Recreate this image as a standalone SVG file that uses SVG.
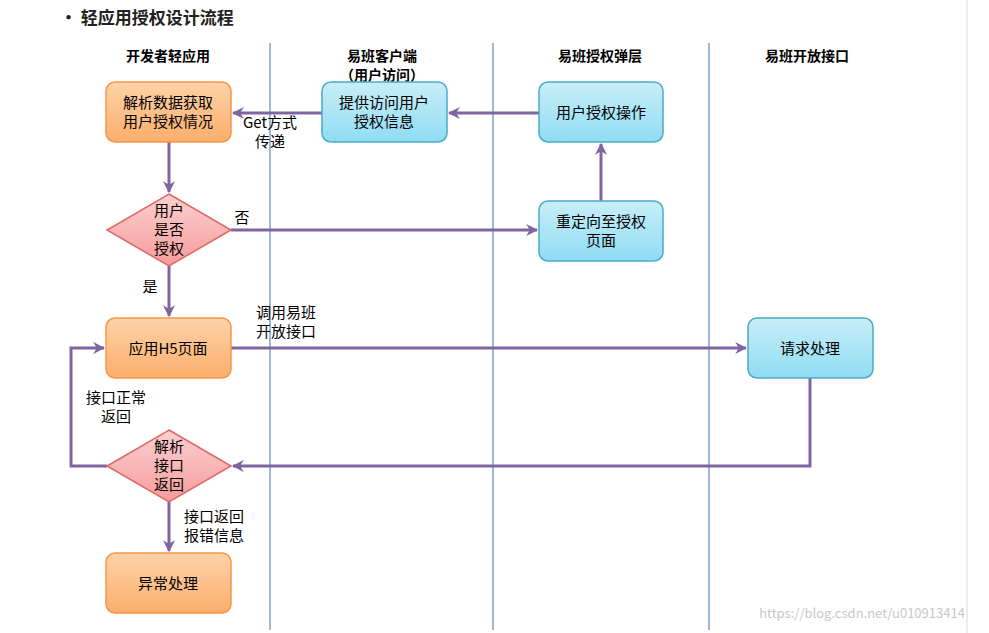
<svg xmlns="http://www.w3.org/2000/svg" width="989" height="633" viewBox="0 0 989 633">
<defs>
<linearGradient id="og" x1="0" y1="0" x2="0" y2="1"><stop offset="0" stop-color="#fdd3a8"/><stop offset="1" stop-color="#fbae6c"/></linearGradient>
<linearGradient id="bg" x1="0" y1="0" x2="0" y2="1"><stop offset="0" stop-color="#c8eef8"/><stop offset="1" stop-color="#8fdcf3"/></linearGradient>
<linearGradient id="pg" x1="0" y1="0" x2="0" y2="1"><stop offset="0" stop-color="#fcd0d0"/><stop offset="1" stop-color="#f59c9c"/></linearGradient>
<marker id="ar" viewBox="0 0 10 10" refX="9" refY="5" markerWidth="4" markerHeight="4" orient="auto"><path d="M0,0 L10,5 L0,10 L3,5 Z" fill="#8064a2"/></marker>
</defs>
<style>
text{font-family:"Noto Sans CJK SC","Liberation Sans",sans-serif;font-size:15px;fill:#000;text-anchor:middle}
.h{font-weight:bold;font-size:14px}
.o{fill:url(#og);stroke:#f79646;stroke-width:1.5}
.b{fill:url(#bg);stroke:#4bacc6;stroke-width:1.5}
.p{fill:url(#pg);stroke:#e06666;stroke-width:1.5}
.c{fill:none;stroke:#8064a2;stroke-width:3;marker-end:url(#ar)}
.lane{stroke:#7f9fd0;stroke-width:1.5}
</style>
<rect width="989" height="633" fill="#fff"/>
<line x1="967" y1="0" x2="967" y2="633" stroke="#ddd"/>
<text x="60" y="24" style="font-size:17px;text-anchor:start;font-weight:bold;fill:#222">• 轻应用授权设计流程</text>
<g id="lanes">
<line class="lane" x1="270" y1="43" x2="270" y2="630"/>
<line class="lane" x1="493" y1="43" x2="493" y2="630"/>
<line class="lane" x1="709" y1="43" x2="709" y2="630"/>
<text class="h" x="168" y="61">开发者轻应用</text>
<text class="h" x="382" y="61">易班客户端</text>
<text class="h" x="382" y="80">（用户访问）</text>
<text class="h" x="600" y="61">易班授权弹层</text>
<text class="h" x="807" y="61">易班开放接口</text>
</g>
<g id="connectors">
<path class="c" d="M322,113 H233"/>
<path class="c" d="M539,113 H449"/>
<path class="c" d="M601,201 V144"/>
<path class="c" d="M169,142 V192"/>
<path class="c" d="M231,230 H537"/>
<path class="c" d="M169,266 V316"/>
<path class="c" d="M231,348 H746"/>
<path class="c" d="M810,378 V466 H233"/>
<path class="c" d="M107,466 H71 V348 H104"/>
<path class="c" d="M169,502 V551"/>
<text x="270" y="128">Get方式</text>
<text x="270" y="147">传递</text>
<text x="242" y="223">否</text>
<text x="150" y="292">是</text>
<text x="286" y="318">调用易班</text>
<text x="286" y="337">开放接口</text>
<text x="116" y="403">接口正常</text>
<text x="116" y="422">返回</text>
<text x="214" y="522">接口返回</text>
<text x="214" y="541">报错信息</text>
</g>
<g id="A"><rect class="o" x="106" y="82" width="125" height="60" rx="9"/><text x="168" y="108">解析数据获取</text><text x="168" y="127">用户授权情况</text></g>
<g id="B"><rect class="b" x="322" y="82" width="125" height="60" rx="9"/><text x="384" y="108">提供访问用户</text><text x="384" y="127">授权信息</text></g>
<g id="C"><rect class="b" x="539" y="82" width="124" height="60" rx="9"/><text x="601" y="118">用户授权操作</text></g>
<g id="D"><rect class="b" x="539" y="201" width="124" height="60" rx="9"/><text x="601" y="227">重定向至授权</text><text x="601" y="246">页面</text></g>
<g id="E"><polygon class="p" points="169,194 231,230 169,266 107,230"/><text x="169" y="216">用户</text><text x="169" y="235">是否</text><text x="169" y="254">授权</text></g>
<g id="F"><rect class="o" x="106" y="318" width="125" height="60" rx="9"/><text x="168" y="354">应用H5页面</text></g>
<g id="G"><rect class="b" x="748" y="318" width="125" height="60" rx="9"/><text x="810" y="354">请求处理</text></g>
<g id="H"><polygon class="p" points="169,430 231,466 169,502 107,466"/><text x="169" y="452">解析</text><text x="169" y="471">接口</text><text x="169" y="490">返回</text></g>
<g id="I"><rect class="o" x="106" y="553" width="125" height="60" rx="9"/><text x="168" y="589">异常处理</text></g>
<text x="862" y="618" style="font-size:13px;fill:#c8c8c8">https://blog.csdn.net/u010913414</text>
</svg>
